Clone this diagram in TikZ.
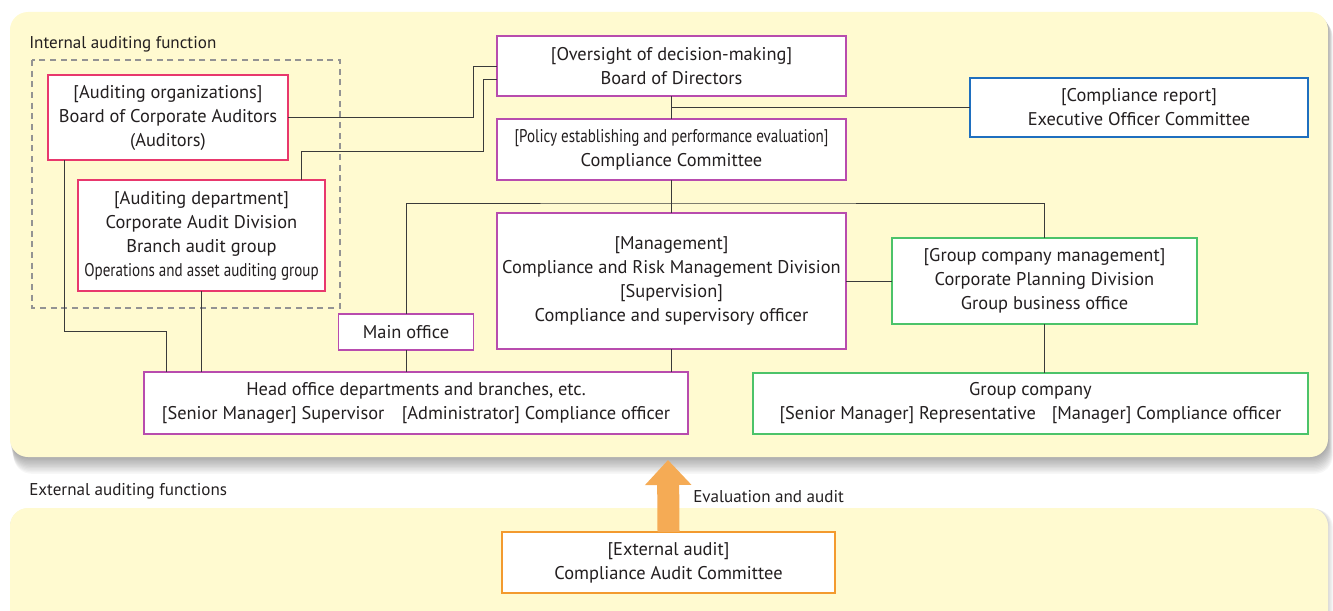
\documentclass[tikz,border=0pt]{standalone}
\usepackage{fontspec}
\setmainfont{PT Sans}
\usepackage{tikz}
\usetikzlibrary{positioning}
\usetikzlibrary{calc,arrows.meta}

\definecolor{panelfill}{HTML}{FFFAD0}
\definecolor{audred}{HTML}{E8386D}
\definecolor{mgmtpurple}{HTML}{B84CAE}
\definecolor{reportblue}{HTML}{1F6FBF}
\definecolor{groupgreen}{HTML}{4CC36A}
\definecolor{extorange}{HTML}{F39A2E}
\definecolor{arroworange}{HTML}{F5AB55}
\definecolor{inktext}{HTML}{231F20}
\definecolor{linkgray}{HTML}{3A3A3A}

\tikzset{
	orgbox/.style={draw, fill=white, line width=0.9pt, inner sep=0pt, outer sep=0pt,
		align=center, text=inktext, font=\fontsize{13.8}{18}\selectfont},
	panellabel/.style={anchor=west, inner sep=0pt, text=inktext, font=\fontsize{12.8}{14}\selectfont},
	link/.style={draw=linkgray, line width=0.7pt},
}

\newcommand{\narrowline}[1]{\scalebox{0.82}[1]{#1}}

\begin{document}
\begin{tikzpicture}[x=0.75pt,y=-0.75pt]
	
	\useasboundingbox (0,0) rectangle (1333,610);
	
	% soft shadow under the upper panel
	\foreach \k in {1,...,12}
		\fill[black, opacity=0.03, rounded corners=13.5pt]
			(10+\k*0.3,12+\k*0.6) rectangle (1328+\k*0.4,457+\k*1.4);
	
	% the two panels
	\fill[panelfill, rounded corners=13.5pt] (10,12) rectangle (1328,457);
	\begin{scope}
		\clip (0,0) rectangle (1333,610);
		\foreach \k in {1,...,4}
			\fill[black, opacity=0.04, rounded corners=13.5pt]
				(10,508+\k*0.3) rectangle (1328+\k*1.2,640);
		\fill[panelfill, rounded corners=13.5pt] (10,508) rectangle (1328,640);
	\end{scope}
	
	\node[panellabel] (intlabel) at (29,44) {Internal auditing function};
	\node[panellabel] (extlabel) at (29,491) {External auditing functions};
	
	% internal auditing group, dashed frame
	\draw[gray!85, line width=1.1pt, dash pattern=on 4.5pt off 3.5pt] (32,60) rectangle (340,308);
	
	%%%%%%%%%%%%%%%%%%%%%%%%%%%%%%%%%%%%%%%%%%%%%%%%%%%%%%%%%%%%%%
	% boxes, placed by their centres
	\node[orgbox, draw=audred, minimum width=180pt, minimum height=63.75pt] (audorg) at (168,117.5)
		{[Auditing organizations]\\Board of Corporate Auditors\\(Auditors)};
	\node[orgbox, draw=audred, minimum width=185.25pt, minimum height=83.25pt] (auddept) at (201.5,235.5)
		{[Auditing department]\\Corporate Audit Division\\Branch audit group\\
		 \narrowline{Operations and asset auditing group}};
	
	\node[orgbox, draw=mgmtpurple, minimum width=261.75pt, minimum height=45pt] (board) at (671.5,66)
		{[Oversight of decision-making]\\Board of Directors};
	\node[orgbox, draw=mgmtpurple, minimum width=261.75pt, minimum height=45.75pt] (compcomm) at (671.5,149.5)
		{\narrowline{[Policy establishing and performance evaluation]}\\Compliance Committee};
	\node[orgbox, draw=reportblue, minimum width=253.5pt, minimum height=44.25pt] (execcomm) at (1139,107.5)
		{[Compliance report]\\Executive Officer Committee};
	
	\node[orgbox, draw=mgmtpurple, minimum width=261.75pt, minimum height=102pt] (mgmt) at (671.5,281)
		{[Management]\\Compliance and Risk Management Division\\{}[Supervision]\\Compliance and supervisory officer};
	\node[orgbox, draw=groupgreen, minimum width=228.75pt, minimum height=64.5pt] (groupmgmt) at (1044.5,281)
		{[Group company management]\\Corporate Planning Division\\Group business office};
	
	\node[orgbox, draw=mgmtpurple, minimum width=101.25pt, minimum height=27pt] (mainoffice) at (406,332)
		{Main office};
	\node[orgbox, draw=mgmtpurple, minimum width=408pt, minimum height=46.5pt] (headoffice) at (416,403)
		{Head office departments and branches, etc.\\
		 {}[Senior Manager] Supervisor\hspace{13pt}[Administrator] Compliance officer};
	\node[orgbox, draw=groupgreen, minimum width=416.25pt, minimum height=45.75pt] (groupco) at (1030.5,403.5)
		{Group company\\
		 {}[Senior Manager] Representative\hspace{12pt}[Manager] Compliance officer};
	
	\node[orgbox, draw=extorange, minimum width=249.75pt, minimum height=45.75pt] (extaudit) at (668.5,562.5)
		{[External audit]\\Compliance Audit Committee};
	
	%%%%%%%%%%%%%%%%%%%%%%%%%%%%%%%%%%%%%%%%%%%%%%%%%%%%%%%%%%%%%%
	% reporting lines
	\coordinate (junction) at (671.5,203);
	
	\draw[link] (audorg.east) -| ($(board.west)+(-24,0)$) -- (board.west);
	\draw[link] ($(auddept.north)+(99.5,0)$) |- ($(board.west)+(-14,85)$)
		|- ($(board.west)+(0,13)$);
	
	\draw[link] (board.south) -- (compcomm.north);
	\draw[link] ($(board.south)!0.5!(compcomm.north)$) -- (execcomm.west);
	
	\draw[link] (compcomm.south) -- (mgmt.north);
	\draw[link] (mainoffice.north) |- (junction) -| (groupmgmt.north);
	
	\draw[link] (mgmt.east) -- (groupmgmt.west);
	\draw[link] (mgmt.south) -- (mgmt.south |- headoffice.north);
	\draw[link] (mainoffice.south) -- (mainoffice.south |- headoffice.north);
	\draw[link] (groupmgmt.south) -- (groupmgmt.south |- groupco.north);
	
	\draw[link] ($(audorg.south west)+(16,0)$) |- ($(headoffice.north west)+(22,-41)$)
		-- ($(headoffice.north west)+(22,0)$);
	\draw[link] (auddept.south) -- (auddept.south |- headoffice.north);
	
	% external evaluation arrow
	\coordinate (paneledge) at (668,460);
	\draw[arroworange, line width=16.5pt, -{Triangle[length=18.75pt, width=33.75pt]}]
		(extaudit.north) -- (paneledge);
	\node[panellabel] (evallabel) at (693,497) {Evaluation and audit};
	
\end{tikzpicture}
\end{document}
